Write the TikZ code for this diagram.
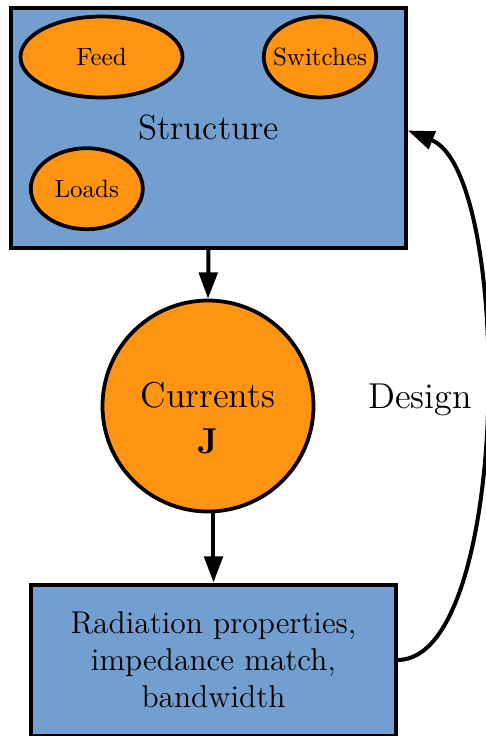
\documentclass[tikz,border=0pt]{standalone}
\usepackage{fontspec}
\usetikzlibrary{shapes.geometric,arrows.meta}

\definecolor{boxblue}{RGB}{114,159,207}
\definecolor{blobfill}{RGB}{254,148,17}

\begin{document}
\begin{tikzpicture}[x=0.4pt, y=-0.4pt,
  panel/.style={draw, rectangle, line width=1.6pt, fill=boxblue, inner sep=0pt},
  blob/.style={draw, ellipse, line width=1.5pt, fill=blobfill, inner sep=0pt,
               minimum height=32.4pt, font=\fontsize{10}{12}\selectfont},
  arr/.style={line width=1.6pt, -{Triangle[length=10.5pt,width=7.4pt]}}]

  \useasboundingbox (0,0) rectangle (486,736);

  % Structure block with its three parts
  \node[panel, minimum width=158pt, minimum height=96pt,
        font=\fontsize{14}{17}\selectfont] (struct) at (208.5,127.5) {Structure};
  \node[blob, minimum width=64.8pt] (feed) at (101.5,57) {\makebox[0pt]{Feed}};
  \node[blob, minimum width=45pt] (switches) at (320,57) {\makebox[0pt]{Switches}};
  \node[blob, minimum width=44.8pt] (loads) at (86.8,188.7) {\makebox[0pt]{Loads}};

  % Currents
  \node[draw, circle, line width=1.5pt, fill=blobfill, inner sep=0pt,
        minimum size=84.4pt] (cur) at (208,406) {};
  \node[align=center, inner sep=0pt,
        font=\fontsize{14.4}{17.6}\selectfont] (curtext) at (208,418)
        {Currents\\[1pt]\textbf{J}};

  % Performance block
  \node[panel, minimum width=145.6pt, minimum height=60.4pt, align=center,
        font=\fontsize{12.6}{14.8}\selectfont] (rad) at (213.5,660)
        {Radiation properties,\\impedance match,\\bandwidth};

  % Connectors
  \draw[arr] (struct.south) -- (cur.north);
  \draw[arr] (rad.north |- cur.south) -- (rad.north);
  \draw[arr] (rad.east) .. controls +(114,0) and +(105.7,42.75) .. ([yshift=-1.2pt]struct.east);

  \node[font=\fontsize{14.4}{17.2}\selectfont] (design) at (420,400) {Design};
\end{tikzpicture}
\end{document}
